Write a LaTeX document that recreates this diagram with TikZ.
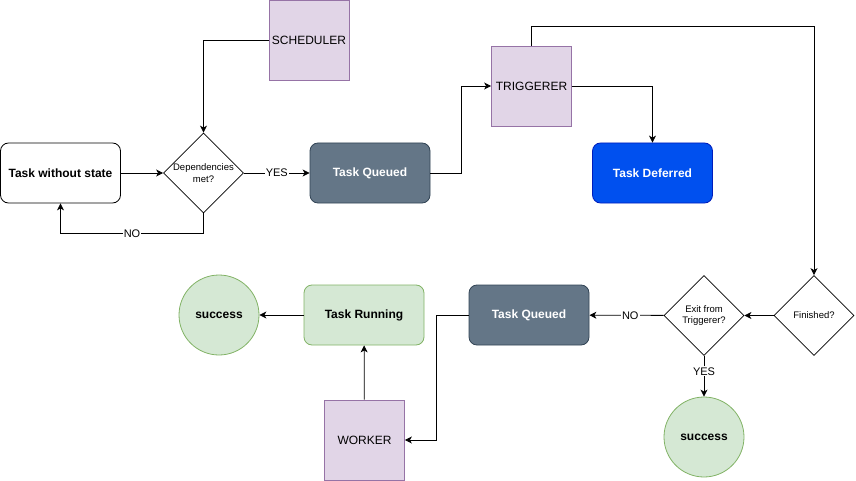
\documentclass[tikz,border=0pt]{standalone}
\usepackage{fontspec}
\setmainfont{Liberation Sans}
\usetikzlibrary{shapes.geometric,arrows.meta}
\definecolor{purpleF}{HTML}{E1D5E7}
\definecolor{purpleD}{HTML}{9673A6}
\definecolor{slateF}{HTML}{647687}
\definecolor{slateD}{HTML}{314354}
\definecolor{blueF}{HTML}{0050EF}
\definecolor{blueD}{HTML}{001DBC}
\definecolor{greenF}{HTML}{D5E8D4}
\definecolor{greenD}{HTML}{82B366}
\begin{document}
\begin{tikzpicture}[x=1pt,y=-1pt,
  box/.style={rounded corners=8pt, minimum width=120pt, minimum height=60pt, inner sep=0pt, font=\bfseries\fontsize{12}{14}\selectfont, line width=0.8pt},
  plain/.style={box, draw=black, fill=white},
  slate/.style={box, draw=slateD, fill=slateF, text=white},
  bluebox/.style={box, draw=blueD, fill=blueF, text=white},
  greenbox/.style={box, draw=greenD, fill=greenF},
  actor/.style={draw=purpleD, fill=purpleF, minimum size=80pt, inner sep=0pt, line width=0.8pt, font=\fontsize{12}{14}\selectfont},
  decision/.style={diamond, aspect=1, draw=black, fill=white, minimum size=80pt, inner sep=0pt, line width=0.8pt},
  dtext/.style={align=center, font=\fontsize{9.5}{11.5}\selectfont, inner sep=0pt},
  endstate/.style={circle, draw=greenD, fill=greenF, minimum size=80pt, inner sep=0pt, line width=0.8pt, font=\bfseries\fontsize{12}{14}\selectfont},
  arr/.style={-{Stealth[length=7pt,width=7pt,inset=2pt]}, line width=0.8pt, black},
  lbl/.style={fill=white, inner sep=1pt, font=\fontsize{11}{13}\selectfont}
]
\useasboundingbox (0,0) rectangle (856,481);
% nodes
\node[plain] (tws) at (60.5,173) {Task without state};
\node[decision, label={[dtext]center:Dependencies\\met?}] (dep) at (203.5,173) {};
\node[slate] (tq1) at (370,173) {Task Queued};
\node[actor] (sched) at (309,40) {SCHEDULER};
\node[actor] (trig) at (531.5,86) {TRIGGERER};
\node[bluebox] (tdef) at (652.5,173) {Task Deferred};
\node[decision, label={[dtext]center:Finished?}] (fin) at (814,315.5) {};
\node[decision, label={[dtext]center:Exit from\\Triggerer?}] (exit) at (704,315.5) {};
\node[slate] (tq2) at (529,315) {Task Queued};
\node[endstate] (succ2) at (704,437) {success};
\node[endstate] (succ1) at (219,315) {success};
\node[greenbox] (trun) at (364,315) {Task Running};
\node[actor] (work) at (364.5,440) {WORKER};
% connectors
\draw[arr] (sched.west) -| (dep.north);
\draw[arr] (tws) -- (dep);
\draw[arr] (dep) -- node[lbl]{YES} (tq1);
\draw[arr] (dep.south) -- ++(0,20) -| node[lbl, pos=0.25]{NO} (tws.south);
\draw[arr] (tq1.east) -- ++(31,0) |- (trig.west);
\draw[arr] (trig.east) -| (tdef.north);
\draw[arr] (trig.north) -- ++(0,-19) -| (fin.north);
\draw[arr] (fin) -- (exit);
\draw[arr] (exit) -- node[lbl, pos=0.45]{NO} (tq2);
\draw[arr] (exit) -- node[lbl, pos=0.38]{YES} (succ2);
\draw[arr] (tq2.west) -- ++(-32,0) |- (work.east);
\draw[arr] (work) -- (trun);
\draw[arr] (trun) -- (succ1);
\end{tikzpicture}
\end{document}
